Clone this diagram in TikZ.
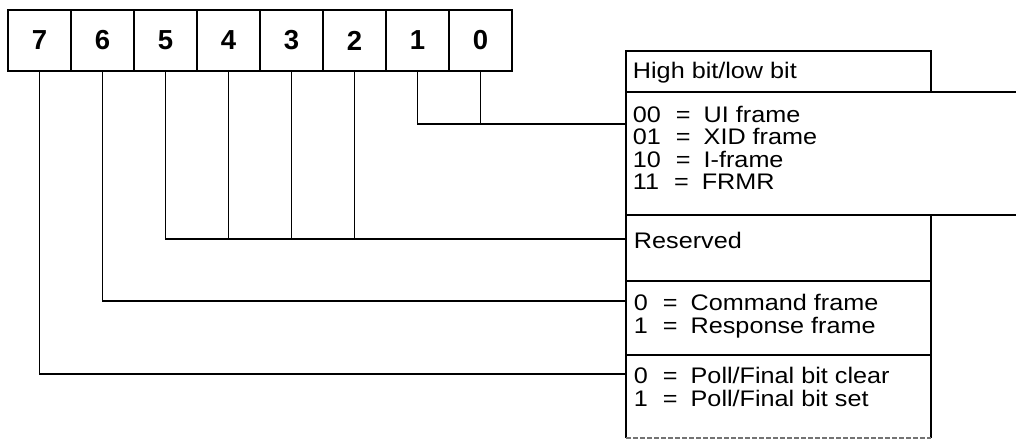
\documentclass[tikz,border=0pt]{standalone}
\usepackage{fontspec}
\setmainfont{Liberation Sans}
\newfontfamily\widefont{Liberation Sans}[FakeStretch=1.12]
% one line of a code table: value = meaning
\newcommand\fieldrow[2]{#1\hspace{15pt}=\hspace{13pt}#2}
\begin{document}
\begin{tikzpicture}[x=1pt,y=-1pt,line width=1.9pt,
  bitbox/.style={draw,minimum width=63pt,minimum height=61pt,inner sep=0pt,outer sep=0pt,
    font=\fontsize{27.5}{27.5}\selectfont\bfseries},
  rowbox/.style={minimum width=305pt,inner sep=0pt,outer sep=0pt},
  rowtext/.style={anchor=base west,inner sep=0pt,
    font=\widefont\fontsize{22.5}{22.5}\selectfont}]
\useasboundingbox (0,0) rectangle (1016,444);

% the eight bits of the byte
\foreach \b [count=\i from 0] in {7,6,5,4,3,2,1,0}
  \node[bitbox] (b\b) at (39.5+63*\i,40.5) {\b};

% meaning column
\node[rowbox,minimum height=41pt]  (hdr)      at (778.5,71.5)  {};
\node[rowbox,minimum height=123pt] (codes)    at (778.5,153.5) {};
\node[rowbox,minimum height=66pt]  (reserved) at (778.5,248)   {};
\node[rowbox,minimum height=74pt]  (command)  at (778.5,318)   {};
\node[rowbox,minimum height=83pt]  (poll)     at (778.5,396.5) {};

\draw (hdr.south west) rectangle (hdr.north east);
\draw (hdr.south west) -- (hdr.south west -| 1016,0);
\draw (codes.north west) -- (codes.south west);
\draw (codes.south west) -- (codes.south west -| 1016,0);
\draw (reserved.south west) rectangle (reserved.north east);
\draw (command.south west) rectangle (command.north east);
\draw (poll.south west) -- (poll.north west) -- (poll.north east) -- (poll.south east);
\draw[black!55,line width=1.3pt,dash pattern=on 5pt off 2pt] (poll.south west) -- (poll.south east);

\node[rowtext] (thdr) at (632,78) {High bit/low bit};
\node[rowtext] (tc0) at (632,122) {\fieldrow{00}{UI frame}};
\node[rowtext] (tc1) at (632,144.5) {\fieldrow{01}{XID frame}};
\node[rowtext] (tc2) at (632,167) {\fieldrow{10}{I-frame}};
\node[rowtext] (tc3) at (632,189.5) {\fieldrow{11}{FRMR}};
\node[rowtext] (tres) at (633,248) {Reserved};
\node[rowtext] (tcmd0) at (633,310) {\fieldrow{0}{Command frame}};
\node[rowtext] (tcmd1) at (633,333) {\fieldrow{1}{Response frame}};
\node[rowtext] (tpf0) at (633,383) {\fieldrow{0}{Poll/Final bit clear}};
\node[rowtext] (tpf1) at (633,406) {\fieldrow{1}{Poll/Final bit set}};

% levels of the leader lines
\path (0,124) coordinate (y10) (0,239) coordinate (y52)
      (0,301) coordinate (y6)  (0,374) coordinate (y7);

% bits 1-0: frame type
\draw (b1.south) |- (codes.west |- y10);
\draw (b0.south) -- (b0.south |- y10);
% bits 5-2: reserved
\draw (b5.south) |- (reserved.west |- y52);
\foreach \b in {4,3,2} \draw (b\b.south) -- (b\b.south |- y52);
% bit 6: command/response
\draw (b6.south) |- (command.west |- y6);
% bit 7: poll/final
\draw (b7.south) |- (poll.west |- y7);
\end{tikzpicture}
\end{document}
